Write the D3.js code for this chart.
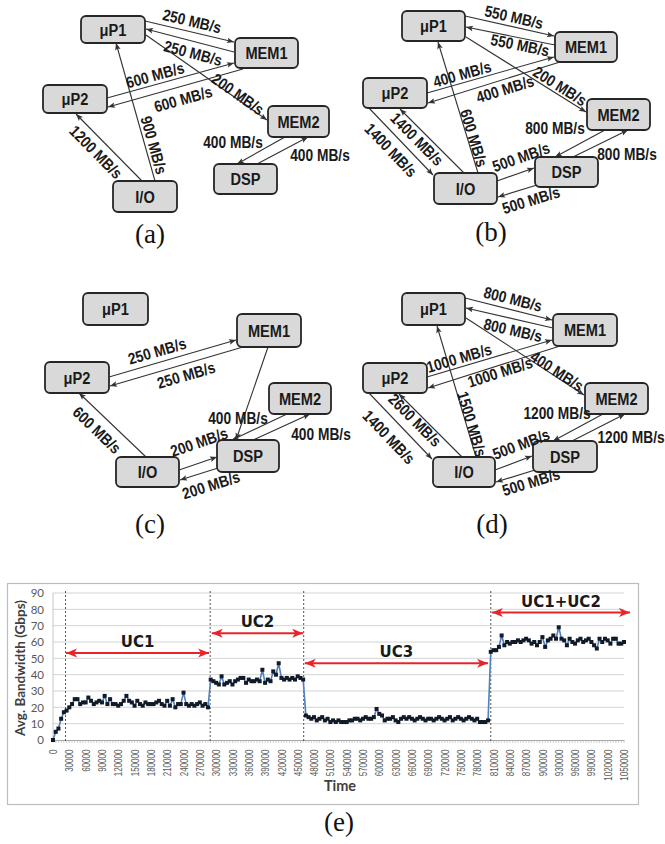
<!DOCTYPE html>
<html><head><meta charset="utf-8">
<script src="https://cdn.jsdelivr.net/npm/d3@7/dist/d3.min.js"></script>
<style>body{margin:0;background:#fff}svg{display:block}</style>
</head><body>
<svg id="c" width="665" height="844"></svg>
<script>
// ================= DATA =================
const nodeNames = ["μP1", "MEM1", "μP2", "MEM2", "DSP", "I/O"];
const panelCaptions = ["(a)", "(b)", "(c)", "(d)", "(e)"];
// edges: [from, to, MB/s]  (null = unlabelled link)
const edgesA = [["μP1","MEM1",250],["MEM1","μP1",250],["μP1","MEM2",200],["μP2","MEM1",600],["MEM1","μP2",600],["I/O","μP2",1200],["I/O","μP1",900],["MEM2","DSP",400],["DSP","MEM2",400]];
const edgesB = [["μP1","MEM1",550],["MEM1","μP1",550],["μP1","MEM2",200],["μP2","MEM1",400],["MEM1","μP2",400],["I/O","μP2",1400],["μP2","I/O",1400],["I/O","μP1",600],["MEM2","DSP",800],["DSP","MEM2",800],["I/O","DSP",500],["DSP","I/O",500]];
const edgesC = [["μP2","MEM1",250],["MEM1","μP2",250],["MEM1","DSP",null],["MEM2","DSP",400],["DSP","MEM2",400],["I/O","μP2",600],["I/O","DSP",200],["DSP","I/O",200]];
const edgesD = [["μP1","MEM1",800],["MEM1","μP1",800],["μP1","MEM2",400],["μP2","MEM1",1000],["MEM1","μP2",1000],["I/O","μP2",2600],["μP2","I/O",1400],["I/O","μP1",1500],["MEM2","DSP",1200],["DSP","MEM2",1200],["I/O","DSP",500],["DSP","I/O",500]];

// time series (Avg. Bandwidth, Gbps), one sample every 5000 time units
const sampleInterval = 5000;
const uc1Values = [0,5,7,13,17,18,20,22,25,25, 22,23,23,26,24,22,23,24,23,27, 22,25,22,22,21,22,24,27,24,23, 21,24,22,21,23,22,22,22,23,24, 22,21,24,21,25,20,22,22,29,22, 21,22,21,22,23,21,22,20];
const uc2Values = [37,36,35,34,39,34,35,36,34,36, 37,38,38,35,37,36,36,37,36,43, 35,37,36,42,40,47,38,37,38,37, 38,37,39,38,37];
const uc3Values = [15,14,13,14,12,13,14,12,13, 11,12,11,12,11,11,11,12,12,13, 13,12,13,14,13,13,14, 19, 16,15,12,13,13,14,12,11,13,14, 13,14,13,12,13,14,13,12,13,13, 12,13,14,13,12,13,14,12,13,14, 13,12,13,14,13,12,13,11,11,11,12];
const uc12Values = [54,55,55,57,64,58,60,59,60,60, 61,60,61,62,61,59,60,58,60,63, 57,61,62,64,62,69,62,61,58,62, 60,59,61,62,60,61,62,60,58,56, 62,60,62,61,59,62,62,59,59,60];
const timeTickLabels = [0,30000,60000,90000,120000,150000,180000,210000,240000,270000,300000,330000,360000,390000,420000,450000,480000,510000,540000,570000,600000,630000,660000,690000,720000,750000,780000,810000,840000,870000,900000,930000,960000,990000,1020000,1050000];
const bandwidthTicks = [0,10,20,30,40,50,60,70,80,90];
const phaseNames = ["UC1", "UC2", "UC3", "UC1+UC2"];
const phaseStart = [24000, 292000, 463000, 807000];
const phaseEnd = [287000, 460000, 800000, 1061000];
const phaseLevel = [53.3, 65.3, 47, 78];
const phaseBoundaries = [23000, 289000, 461000, 805000];

// ================= LAYOUT (positions only) =================
const layouts = [
 {boxes:{"μP1":[81,16,64,27],"MEM1":[235,38,63,30],"μP2":[43,85,64,28],"MEM2":[268,106,61,31],"DSP":[214,164,63,30],"I/O":[113,181,64,31]},
  links:[[145,21,234,42,192,21],[234,52,146,29,193,53],[146,35,267,120,238,94],[107,98,234,63,155,75],[243,69,108,107,183,99],[142,181,76,114,96,152],[155,181,116,43,154,145],[285,137,237,164,233,142,0],[257,164,308,137,320,155,0]],
  cap:[150,243]},
 {boxes:{"μP1":[402,11,63,30],"MEM1":[555,32,62,30],"μP2":[363,78,64,30],"MEM2":[587,99,63,31],"DSP":[535,157,63,30],"I/O":[434,173,63,31]},
  links:[[465,16,554,36,514,17],[555,45,466,27,520,45],[466,37,586,112,560,86],[427,93,554,57,462,74],[560,62,428,103,505,89],[464,173,400,109,417,139],[368,107,433,175,391,150],[478,173,438,42,474,138],[605,130,555,157,555,128,0],[573,157,628,130,627,154,0],[497,181,534,168,521,157],[537,185,498,197,531,200]],
  cap:[491,241]},
 {boxes:{"μP1":[83,293,65,32],"MEM1":[237,314,64,33],"μP2":[45,362,64,31],"MEM2":[269,383,62,31],"DSP":[217,440,62,32],"I/O":[116,457,63,30]},
  links:[[109,377,236,340,157,351],[243,347,110,386,186,375],[268,347,236,440],[287,414,232,440,238,418,0],[253,440,310,414,321,434,0],[146,457,79,393,97,430],[179,470,217,457,199,442],[218,468,180,480,211,485]],
  cap:[150,533]},
 {boxes:{"μP1":[402,293,63,32],"MEM1":[553,314,64,32],"μP2":[363,363,64,30],"MEM2":[585,383,63,31],"DSP":[533,441,64,31],"I/O":[433,457,62,30]},
  links:[[465,298,552,320,513,299],[553,328,466,308,513,330],[466,318,584,395,557,371],[427,377,552,340,459,358],[560,346,428,388,500,372],[462,457,399,394,415,420],[368,392,432,459,389,437],[476,457,437,326,472,424],[603,414,553,441,557,413,0],[572,441,625,414,631,437,0],[495,470,532,456,521,444],[535,470,496,482,531,482]],
  cap:[492,533]}
];
const allEdges = [edgesA, edgesB, edgesC, edgesD];

// ================= DRAW =================
const svg = d3.select("#c");
const defs = svg.append("defs");
defs.append("marker").attr("id","ah").attr("viewBox","0 -5 10 10").attr("refX",10).attr("refY",0)
  .attr("markerUnits","userSpaceOnUse").attr("markerWidth",8).attr("markerHeight",7).attr("orient","auto")
  .append("path").attr("d","M0,-4L10,0L0,4L2,0Z").attr("fill","#333");
defs.append("marker").attr("id","rah").attr("viewBox","0 -5 12 10").attr("refX",11).attr("refY",0)
  .attr("markerUnits","userSpaceOnUse").attr("markerWidth",12).attr("markerHeight",10).attr("orient","auto-start-reverse")
  .append("path").attr("d","M0,-4.5L11,0L0,4.5L3,0Z").attr("fill","#e8242b");

const sansBold = "'Liberation Sans', Arial, sans-serif";

allEdges.forEach((edges, p) => {
  const L = layouts[p];
  const g = svg.append("g");
  edges.forEach((e, i) => {
    const k = L.links[i];
    g.append("line").attr("x1",k[0]).attr("y1",k[1]).attr("x2",k[2]).attr("y2",k[3])
      .attr("stroke","#333").attr("stroke-width",1.1).attr("marker-end","url(#ah)");
  });
  nodeNames.forEach(n => {
    const b = L.boxes[n];
    g.append("rect").attr("x",b[0]).attr("y",b[1]).attr("width",b[2]).attr("height",b[3]).attr("rx",5)
      .attr("fill","#d9d9d9").attr("stroke","#262626").attr("stroke-width",1.8);
    g.append("text").attr("transform",`translate(${b[0]+b[2]/2},${b[1]+b[3]/2}) scale(0.86,1)`)
      .attr("text-anchor","middle").attr("dy","0.36em").attr("font-family",sansBold).attr("font-weight","bold")
      .attr("font-size",17).attr("fill","#1a1a1a").text(n);
  });
  edges.forEach((e, i) => {
    if (e[2] == null) return;
    const k = L.links[i];
    let a;
    if (k.length > 6) a = k[6];
    else {
      a = Math.atan2(k[3]-k[1], k[2]-k[0]) * 180 / Math.PI;
      if (a > 90) a -= 180; if (a < -90) a += 180;
    }
    g.append("text").attr("transform",`translate(${k[4]},${k[5]}) rotate(${a.toFixed(1)}) scale(0.86,1)`)
      .attr("text-anchor","middle").attr("dy","0.36em").attr("font-family",sansBold).attr("font-weight","bold")
      .attr("font-size",16).attr("fill","#1a1a1a").text(`${e[2]} MB/s`);
  });
  svg.append("text").attr("x",L.cap[0]).attr("y",L.cap[1]).attr("text-anchor","middle")
    .attr("font-family","'Liberation Serif','Times New Roman',serif").attr("font-size",27).attr("fill","#111")
    .text(panelCaptions[p]);
});

// ----- chart (e) -----
const series = [...uc1Values, ...uc2Values, ...uc3Values, ...uc12Values].map((v, i) => ({t: i * sampleInterval, v}));
const x = d3.scaleLinear().domain([0, 1050000]).range([53, 624]);
const y = d3.scaleLinear().domain([0, 90]).range([740, 593]);
const ch = svg.append("g");
ch.append("rect").attr("x",7.5).attr("y",583.5).attr("width",631).attr("height",221)
  .attr("fill","#fff").attr("stroke","#bdbdbd").attr("stroke-width",1.2);

ch.append("g").selectAll("line").data(bandwidthTicks.filter(d => d > 0)).join("line")
  .attr("x1",x(0)).attr("x2",x(1050000)).attr("y1",d => y(d)).attr("y2",d => y(d))
  .attr("stroke","#d4d4d4").attr("stroke-width",1);
ch.append("line").attr("x1",x(0)).attr("x2",x(0)).attr("y1",y(90)).attr("y2",y(0)).attr("stroke","#c8c8c8");

const ya = ch.append("g").attr("transform",`translate(${x(0)},0)`)
  .call(d3.axisLeft(y).tickValues(bandwidthTicks).tickSize(0).tickPadding(9));
ya.select(".domain").remove();
ya.selectAll("text").attr("font-family","Lato, 'Liberation Sans', sans-serif").attr("font-size",11.5).attr("fill","#595959");

const xa = ch.append("g").attr("transform",`translate(0,${y(0)})`)
  .call(d3.axisBottom(x).tickValues(timeTickLabels).tickSize(0).tickFormat(d3.format("d")));
xa.select(".domain").attr("stroke","#a6a6a6");
xa.selectAll("text").attr("transform","rotate(-90) scale(0.8,1)").attr("text-anchor","end")
  .attr("x",-12).attr("y",0).attr("dy","0.36em")
  .attr("font-family","'Liberation Sans', sans-serif").attr("font-size",10).attr("fill","#595959");
ch.append("g").selectAll("line").data(series).join("line")
  .attr("x1",d => x(d.t)).attr("x2",d => x(d.t)).attr("y1",y(0)).attr("y2",y(0)+3)
  .attr("stroke","#b0b0b0").attr("stroke-width",0.6);

ch.append("g").selectAll("line").data(phaseBoundaries).join("line")
  .attr("x1",d => x(d)).attr("x2",d => x(d)).attr("y1",y(90)-2).attr("y2",y(0)+3)
  .attr("stroke","#555").attr("stroke-width",1).attr("stroke-dasharray","2,2");

ch.append("path").datum(series).attr("fill","none").attr("stroke","#4f81bd").attr("stroke-width",1.6)
  .attr("d", d3.line().x(d => x(d.t)).y(d => y(d.v)));
ch.append("g").selectAll("rect").data(series).join("rect")
  .attr("x",d => x(d.t)-2).attr("y",d => y(d.v)-2).attr("width",4).attr("height",4).attr("fill","#111a28");

phaseNames.forEach((n, i) => {
  ch.append("line").attr("x1",x(phaseStart[i])).attr("x2",x(phaseEnd[i])).attr("y1",y(phaseLevel[i])).attr("y2",y(phaseLevel[i]))
    .attr("stroke","#e8242b").attr("stroke-width",2).attr("marker-start","url(#rah)").attr("marker-end","url(#rah)");
  ch.append("text").attr("x",(x(phaseStart[i])+x(phaseEnd[i]))/2).attr("y",y(phaseLevel[i])-6).attr("text-anchor","middle")
    .attr("font-family","'DejaVu Sans', sans-serif").attr("font-weight","bold").attr("font-size",15).attr("fill","#1a1a1a").text(n);
});

ch.append("text").attr("transform","translate(24.5,668) rotate(-90)").attr("text-anchor","middle")
  .attr("font-family","Lato, 'Liberation Sans', sans-serif").attr("font-weight","bold").attr("font-size",13.5).attr("fill","#404040")
  .text("Avg. Bandwidth (Gbps)");
ch.append("text").attr("x",340).attr("y",791).attr("text-anchor","middle")
  .attr("font-family","Lato, 'Liberation Sans', sans-serif").attr("font-weight","bold").attr("font-size",14.5).attr("fill","#404040")
  .text("Time");
svg.append("text").attr("x",339).attr("y",831).attr("text-anchor","middle")
  .attr("font-family","'Liberation Serif','Times New Roman',serif").attr("font-size",27).attr("fill","#111")
  .text(panelCaptions[4]);
</script>
</body></html>
